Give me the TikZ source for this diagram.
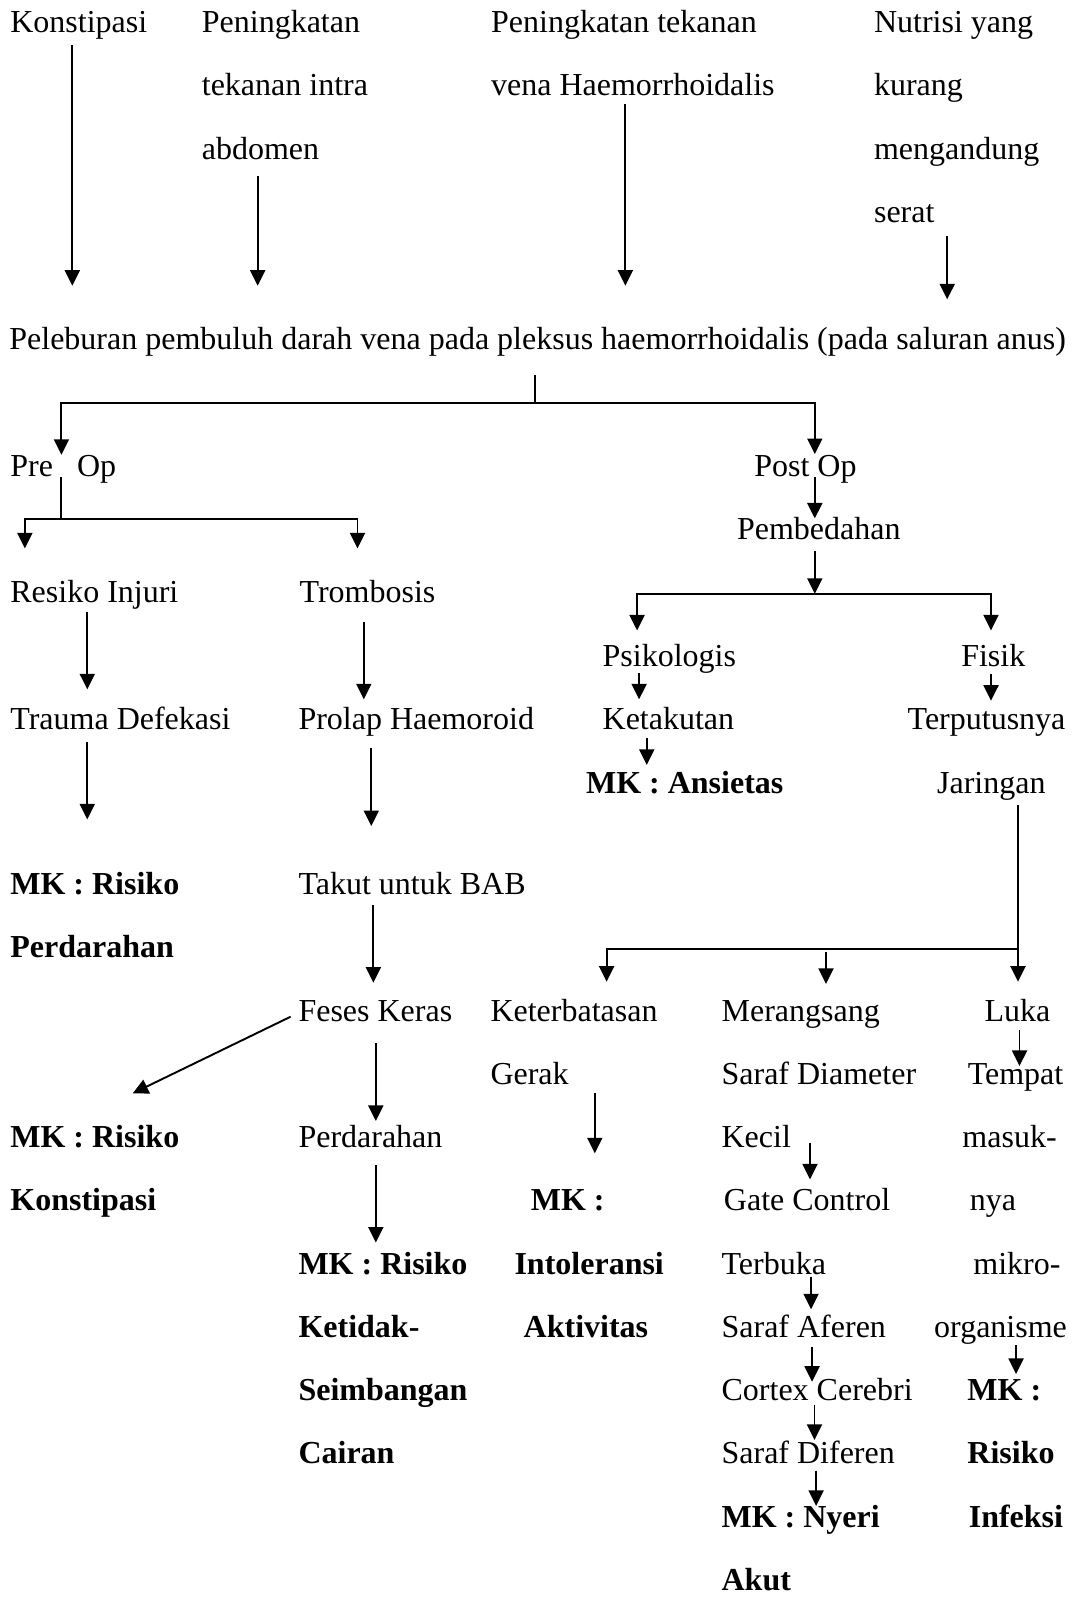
\documentclass[tikz,border=0pt]{standalone}
\usepackage{fontspec}
\setmainfont{Liberation Serif}
\usetikzlibrary{arrows.meta,calc}
\tikzset{
  txt/.style={anchor=base west, inner sep=0pt, font=\fontsize{32}{38}\selectfont},
  bt/.style={txt, font=\fontsize{32}{38}\selectfont\bfseries},
  ln/.style={line width=1.9pt},
  arr/.style={line width=1.9pt, -{Triangle[length=15.5pt,width=15pt]}}
}
% vertical arrow: src, dst, x, offset below src baseline, offset above dst baseline
\newcommand\varr[5]{\draw[arr] ($(#1.base -| #3,0)+(0,#4)$) -- ($(#2.base -| #3,0)+(0,-#5)$);}
\begin{document}
\begin{tikzpicture}[x=1.0185pt,y=-1.0185pt]
\useasboundingbox (0,0) rectangle (1054,1568);
% ---- top block
\node[txt] (k1) at (10,31.7) {Konstipasi};
\node[txt] (pa1) at (198,31.7) {Peningkatan};
\node[txt] (pa2) at (198,94) {tekanan intra};
\node[txt] (pa3) at (198,156.2) {abdomen};
\node[txt] (pv1) at (482,31.7) {Peningkatan tekanan};
\node[txt] (pv2) at (482,94) {vena Haemorrhoidalis};
\node[txt] (nu1) at (858,31.7) {Nutrisi yang};
\node[txt] (nu2) at (858,94) {kurang};
\node[txt] (nu3) at (858,156.2) {mengandung};
\node[txt] (nu4) at (858,218.5) {serat};
\node[txt] (pel) at (9,343) {Peleburan pembuluh darah vena pada pleksus haemorrhoidalis (pada saluran anus)};
\node[txt] (pre) at (10,467.5) {Pre\hspace{24pt}Op};
\node[txt] (post) at (740.4,467.5) {Post Op};
\node[txt] (pemb) at (723.5,529.7) {Pembedahan};
\node[txt] (ri) at (10,592) {Resiko Injuri};
\node[txt] (tr) at (294,592) {Trombosis};
\node[txt] (psi) at (591.5,654) {Psikologis};
\node[txt] (fis) at (943.6,654) {Fisik};
\node[txt] (td) at (10,716.5) {Trauma Defekasi};
\node[txt] (ph) at (292.9,716.5) {Prolap Haemoroid};
\node[txt] (ket) at (591.5,716.5) {Ketakutan};
\node[txt] (ter) at (891,716.5) {Terputusnya};
\node[bt] (ans) at (575.2,778.7) {MK : Ansietas};
\node[txt] (jar) at (919.9,778.7) {Jaringan};
% ---- lower block
\node[bt] (mkp1) at (10,878.3) {MK : Risiko};
\node[txt] (tbab) at (292.9,878.3) {Takut untuk BAB};
\node[bt] (mkp2) at (10,940.4) {Perdarahan};
\node[txt] (fk) at (292.9,1002.5) {Feses Keras};
\node[txt] (keb1) at (481.4,1002.5) {Keterbatasan};
\node[txt] (mer1) at (708.3,1002.5) {Merangsang};
\node[txt] (luka) at (966.5,1002.5) {Luka};
\node[txt] (keb2) at (481.4,1064.6) {Gerak};
\node[txt] (mer2) at (708.3,1064.6) {Saraf Diameter};
\node[txt] (tem1) at (950,1064.6) {Tempat};
\node[bt] (mkk1) at (10,1126.7) {MK : Risiko};
\node[txt] (perd) at (292.9,1126.7) {Perdarahan};
\node[txt] (mer3) at (708.3,1126.7) {Kecil};
\node[txt] (tem2) at (944.8,1126.7) {masuk-};
\node[bt] (mkk2) at (10,1188.8) {Konstipasi};
\node[bt] (mki1) at (521,1188.8) {MK :};
\node[txt] (gc) at (710.6,1188.8) {Gate Control};
\node[txt] (tem3) at (952,1188.8) {nya};
\node[bt] (mkc1) at (292.9,1250.9) {MK : Risiko};
\node[bt] (mki2) at (505,1250.9) {Intoleransi};
\node[txt] (terb) at (708.3,1250.9) {Terbuka};
\node[txt] (tem4) at (955.5,1250.9) {mikro-};
\node[bt] (mkc2) at (292.9,1313) {Ketidak-};
\node[bt] (mki3) at (514,1313) {Aktivitas};
\node[txt] (saf) at (708.3,1313) {Saraf Aferen};
\node[txt] (tem5) at (917,1313) {organisme};
\node[bt] (mkc3) at (292.9,1375) {Seimbangan};
\node[txt] (cc) at (708.3,1375) {Cortex Cerebri};
\node[bt] (mkr1) at (949.7,1375) {MK :};
\node[bt] (mkc4) at (292.9,1437.2) {Cairan};
\node[txt] (sd) at (708.3,1437.2) {Saraf Diferen};
\node[bt] (mkr2) at (949.7,1437.2) {Risiko};
\node[bt] (mkn1) at (708.3,1499.3) {MK : Nyeri};
\node[bt] (mkr3) at (951,1499.3) {Infeksi};
\node[bt] (mkn2) at (708.3,1561.4) {Akut};
% ---- connectors: top causes
\varr{k1}{pel}{71}{12.5}{62.5}
\varr{pa3}{pel}{253}{16.6}{62.5}
\varr{pv2}{pel}{614}{8.4}{62.5}
\varr{nu4}{pel}{930}{13.2}{49.1}
% Peleburan -> Pre Op / Post Op
\coordinate (j1) at ($(pel.base -| 525,0)+(0,53)$);
\draw[ln] ($(pel.base -| 525,0)+(0,25)$) -- (j1);
\draw[arr] (j1) -| ($(pre.base -| 60.3,0)+(0,-21)$);
\draw[arr] (j1) -| ($(post.base -| 800,0)+(0,-21.7)$);
% Pre Op -> Resiko Injuri / Trombosis
\coordinate (j2) at ($(pre.base -| 60.3,0)+(0,42.4)$);
\draw[ln] ($(pre.base -| 60.3,0)+(0,0.5)$) -- (j2);
\draw[arr] (j2) -| ($(ri.base -| 24.4,0)+(0,-53.6)$);
\draw[arr] (j2) -| ($(tr.base -| 351,0)+(0,-53.6)$);
% Post Op branch
\varr{post}{pemb}{800}{0.5}{20.7}
\coordinate (j3) at ($(pemb.base -| 800,0)+(0,53.3)$);
\draw[arr] ($(pemb.base -| 800,0)+(0,11)$) -- (j3);
\draw[arr] (j3) -| ($(psi.base -| 625.5,0)+(0,-35)$);
\draw[arr] (j3) -| ($(fis.base -| 973,0)+(0,-35)$);
\varr{psi}{ket}{627.5}{7}{29.9}
\varr{ket}{ans}{635}{8.5}{27.7}
\varr{fis}{ter}{973}{7.7}{28.5}
% Jaringan -> three branches
\varr{jar}{luka}{999.5}{11.7}{38.6}
\coordinate (j4) at ($(jar.base -| 999.5,0)+(0,153.1)$);
\draw[arr] (j4) -| ($(keb1.base -| 595.6,0)+(0,-38.6)$);
\draw[arr] ($(j4 -| 811,0)+(0,2.6)$) -- ($(mer1.base -| 811,0)+(0,-36.5)$);
% Pre Op chains
\varr{ri}{td}{85.7}{9.2}{39.7}
\varr{td}{mkp1}{85.7}{12.3}{73.8}
\varr{tr}{ph}{357.2}{19}{29.9}
\varr{ph}{tbab}{364.6}{18.2}{67.3}
\varr{tbab}{fk}{366.6}{10.3}{37.7}
\varr{fk}{perd}{369}{21.9}{26.1}
\varr{perd}{mkc1}{369}{17.1}{30.9}
\draw[arr] ($(fk.base west)+(-7.5,-4.3)$) -- ($(mkk1.base -| 130.3,0)+(0,-53.2)$);
% Post Op lower chains
\varr{keb2}{mki1}{584}{8.9}{56.4}
\varr{mer3}{gc}{795.3}{-4.7}{30.8}
\varr{terb}{saf}{796.3}{2.6}{27.5}
\varr{saf}{cc}{797.3}{9.2}{18.4}
\varr{cc}{sd}{799.7}{4.5}{23.4}
\varr{sd}{mkn1}{801.3}{6.8}{20.7}
\varr{luka}{tem1}{1001}{8.8}{18}
\varr{tem5}{mkr1}{997.6}{7.6}{26}
\end{tikzpicture}
\end{document}
